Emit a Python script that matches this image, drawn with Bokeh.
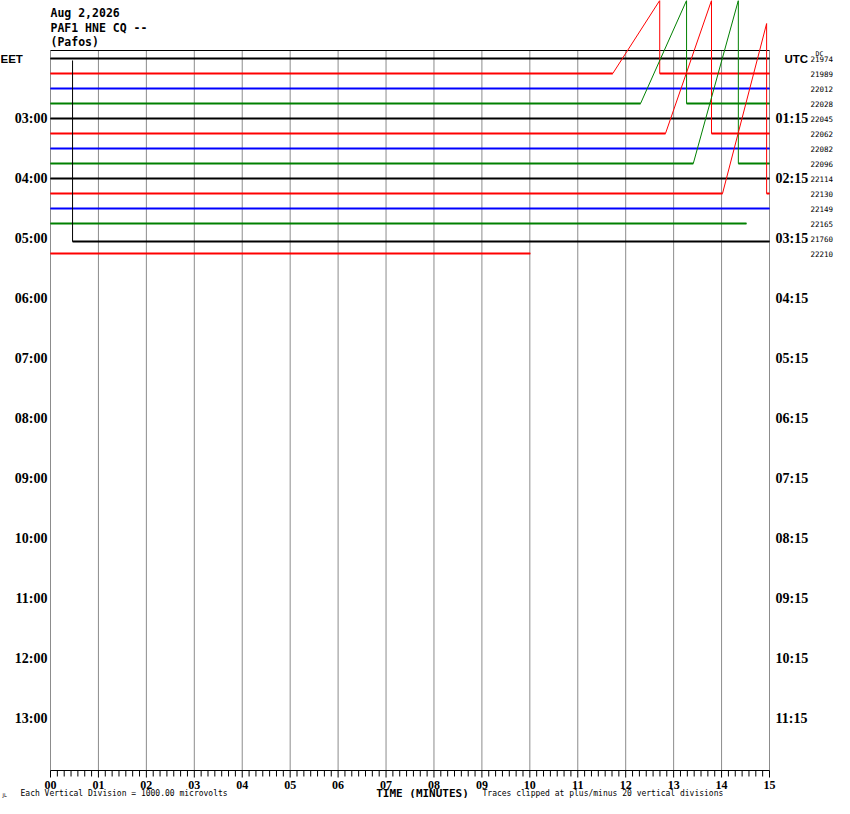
from bokeh.plotting import figure
from bokeh.models import Range1d
from bokeh.core.properties import value
from bokeh.embed import file_html
from bokeh.resources import INLINE

# ---------------- data ----------------
title_lines = ["Aug 2,2026", "PAF1 HNE CQ --", "(Pafos)"]
minutes = list(range(16))
minute_labels = ["%02d" % m for m in minutes]
minor_per_minute = 7

# one trace per 15-minute row (row index = position from the top)
row_colors = ["#000000", "#ff0000", "#0000ff", "#008000",
              "#000000", "#ff0000", "#0000ff", "#008000",
              "#000000", "#ff0000", "#0000ff", "#008000",
              "#000000", "#ff0000"]
dc_values = ["21974", "21989", "22012", "22028", "22045", "22062", "22082",
             "22096", "22114", "22130", "22149", "22165", "21760", "22210"]

# trace vertices: time (minutes) and deflection (rows, negative = up)
trace_t = [
    [0, 15],
    [0, 11.73, 12.71, 12.71, 15],
    [0, 15],
    [0, 12.31, 13.27, 13.27, 15],
    [0, 15],
    [0, 12.83, 13.79, 13.79, 15],
    [0, 15],
    [0, 13.41, 14.35, 14.35, 15],
    [0, 15],
    [0, 14.02, 14.94, 14.94, 15],
    [0, 15],
    [0, 14.52],
    [0.46, 0.46, 15],
    [0, 10.01],
]
trace_d = [
    [0, 0],
    [0, 0, -4.87, 0, 0],
    [0, 0],
    [0, 0, -6.87, 0, 0],
    [0, 0],
    [0, 0, -8.87, 0, 0],
    [0, 0],
    [0, 0, -10.87, 0, 0],
    [0, 0],
    [0, 0, -11.33, 0, 0],
    [0, 0],
    [0, 0],
    [-11.87, 0.2, 0.2],
    [0, 0],
]

eet_rows = [4, 8, 12, 16, 20, 24, 28, 32, 36, 40, 44]
eet_labels = ["03:00", "04:00", "05:00", "06:00", "07:00", "08:00",
              "09:00", "10:00", "11:00", "12:00", "13:00"]
utc_labels = ["01:15", "02:15", "03:15", "04:15", "05:15", "06:15",
              "07:15", "08:15", "09:15", "10:15", "11:15"]
footnote_left = "Each Vertical Division = 1000.00 microvolts"
footnote_right = "Traces clipped at plus/minus 20 vertical divisions"
axis_title = "TIME (MINUTES)"

# ---------------- geometry helpers (pixel -> data units) ----------------
W, H = 834, 798
PX_PER_MIN = (769 - 50) / 15.0
PX_PER_ROW = 15.0
def mx(px):
    return (px - 50) / PX_PER_MIN
def ry(py):
    return (py - 58) / PX_PER_ROW

box_top = ry(50)
axis_y = ry(770)

p = figure(width=W, height=H, output_backend="svg", toolbar_location=None,
           x_range=Range1d(mx(0), mx(W)), y_range=Range1d(ry(H), ry(0)),
           x_axis_location=None, y_axis_location=None,
           min_border=0, outline_line_color=None,
           background_fill_color="white", border_fill_color="white")
p.xgrid.visible = False
p.ygrid.visible = False

# vertical minute grid lines
p.segment(x0=minutes, y0=[box_top] * len(minutes), x1=minutes,
          y1=[axis_y] * len(minutes), line_color="#8c8c8c", line_width=1)
# top border of the drum
p.segment(x0=[minutes[0]], y0=[box_top], x1=[minutes[-1]], y1=[box_top],
          line_color="black", line_width=1)

# traces
for r, (ts, ds, col) in enumerate(zip(trace_t, trace_d, row_colors)):
    ys = [r + d for d in ds]
    p.line(ts, ys, line_color=col, line_width=1)
    fx0, fy0, fx1, fy1 = [], [], [], []
    for i in range(len(ts) - 1):
        if ys[i] == ys[i + 1]:
            fx0.append(ts[i]); fx1.append(ts[i + 1]); fy0.append(ys[i]); fy1.append(ys[i + 1])
    p.segment(x0=fx0, y0=fy0, x1=fx1, y1=fy1, line_color=col, line_width=2)

# ---------------- time axis ----------------
p.segment(x0=[minutes[0]], y0=[axis_y], x1=[minutes[-1]], y1=[axis_y],
          line_color="black", line_width=1)
p.segment(x0=minutes, y0=[axis_y] * len(minutes), x1=minutes,
          y1=[axis_y + 7 / PX_PER_ROW] * len(minutes), line_color="black", line_width=1)
minor = [m + k / minor_per_minute for m in minutes[:-1] for k in range(1, minor_per_minute)]
p.segment(x0=minor, y0=[axis_y] * len(minor), x1=minor,
          y1=[axis_y + 6 / PX_PER_ROW] * len(minor), line_color="black", line_width=1)
p.text(x=minutes, y=[ry(784)] * len(minutes), text=minute_labels,
       text_font=value("Liberation Serif"), text_font_style="bold",
       text_font_size="12px", text_baseline="middle", text_align="center",
       text_color="black")
p.text(x=[mx(422)], y=[ry(792.5)], text=[axis_title],
       text_font=value("DejaVu Sans Mono"), text_font_style="bold",
       text_font_size="11px", text_baseline="middle", text_align="center",
       text_color="black")
p.text(x=[mx(20)], y=[ry(793)], text=[footnote_left],
       text_font=value("DejaVu Sans Mono"), text_font_size="8px",
       text_baseline="middle", text_align="left", text_color="black")
p.text(x=[mx(482)], y=[ry(793)], text=[footnote_right],
       text_font=value("DejaVu Sans Mono"), text_font_size="8px",
       text_baseline="middle", text_align="left", text_color="black")
p.text(x=[mx(2)], y=[ry(794)], text=["JL"],
       text_font=value("DejaVu Sans"), text_font_size="5px",
       text_baseline="middle", text_align="left", text_color="black")

# ---------------- header ----------------
for i, t in enumerate(title_lines):
    p.text(x=[minutes[0]], y=[ry(12.5) + i * (14.5 / PX_PER_ROW)], text=[t],
           text_font=value("DejaVu Sans Mono"), text_font_style="bold",
           text_font_size="11.5px", text_baseline="middle", text_align="left",
           text_color="black")

# ---------------- left: local time ----------------
p.text(x=[mx(0)], y=[0], text=["EET"], text_font=value("Liberation Sans"),
       text_font_style="bold", text_font_size="11.5px", text_baseline="middle",
       text_align="left", text_color="black")
p.text(x=[mx(47)] * len(eet_rows), y=eet_rows, text=eet_labels,
       text_font=value("Liberation Serif"), text_font_style="bold",
       text_font_size="14px", text_baseline="middle", text_align="right",
       text_color="black")

# ---------------- right: UTC and DC ----------------
p.text(x=[mx(784)], y=[0], text=["UTC"], text_font=value("Liberation Sans"),
       text_font_style="bold", text_font_size="11.5px", text_baseline="middle",
       text_align="left", text_color="black")
p.text(x=[mx(775)] * len(eet_rows), y=eet_rows, text=utc_labels,
       text_font=value("Liberation Serif"), text_font_style="bold",
       text_font_size="14px", text_baseline="middle", text_align="left",
       text_color="black")
p.text(x=[mx(810)] * len(dc_values), y=list(range(len(dc_values))), text=dc_values,
       text_font=value("DejaVu Sans Mono"), text_font_size="7.5px",
       text_baseline="middle", text_align="left", text_color="black")
p.text(x=[mx(815)], y=[ry(53)], text=["DC"], text_font=value("DejaVu Sans Mono"),
       text_font_size="6.5px", text_baseline="middle", text_align="left",
       text_color="black")

open("out.html", "w").write(file_html(p, INLINE))
